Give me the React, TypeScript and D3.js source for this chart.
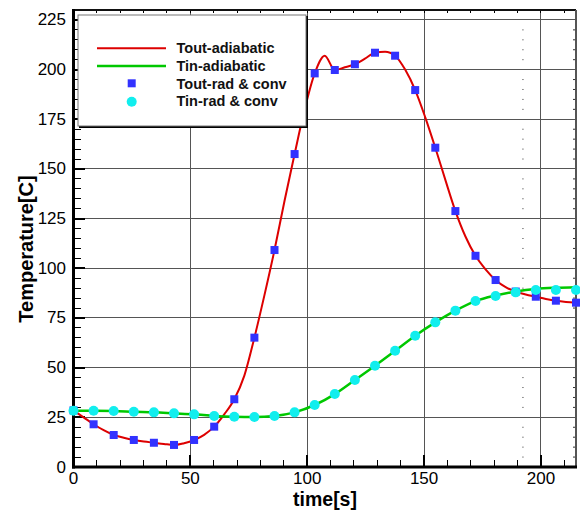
import React from "react";
import * as d3 from "d3";

// time grid for markers (s)
const markerTimes: number[] = [0, 8.6, 17.2, 25.8, 34.4, 43, 51.6, 60.2, 68.8, 77.4, 86, 94.6, 103.2, 111.8, 120.4, 129, 137.6, 146.2, 154.8, 163.4, 172, 180.6, 189.2, 197.8, 206.4, 215];
// Tout-rad & conv (squares)
const toutRad: number[] = [28.5, 21.5, 16.1, 13.6, 12.2, 11.1, 13.6, 20.3, 34.1, 65.1, 109.2, 157.5, 198.1, 199.8, 202.7, 208.5, 207, 189.7, 160.7, 128.8, 106.3, 94.1, 88.3, 85.7, 83.7, 82.7];
// Tin-rad & conv (circles)
const tinRad: number[] = [28.3, 28.3, 28.2, 27.8, 27.5, 27, 26.5, 25.7, 25.3, 25.2, 25.7, 27.5, 31.2, 36.7, 43.8, 51, 58.5, 66.1, 72.8, 78.7, 83.5, 86.1, 87.9, 89.1, 89.1, 89.1];

// line series time grid (s)
const lineTimes: number[] = [0, 4.3, 8.6, 12.9, 17.2, 21.5, 25.8, 30.1, 34.4, 38.7, 43, 47.3, 51.6, 55.9, 60.2, 64.5, 68.8, 73.1, 77.4, 81.7, 86, 90.3, 94.6, 98.9, 103.2, 107.5, 111.8, 116.1, 120.4, 124.7, 129, 133.3, 137.6, 141.9, 146.2, 150.5, 154.8, 159.1, 163.4, 167.7, 172, 176.3, 180.6, 184.9, 189.2, 193.5, 197.8, 202.1, 206.4, 210.7, 215];
// Tout-adiabatic (red line)
const toutAdiabatic: number[] = [28.5, 25, 21.5, 18.5, 16.1, 14.7, 13.6, 12.8, 12.2, 11.6, 11.1, 12, 13.6, 16.2, 20.3, 26.5, 34.1, 46, 65.1, 86.5, 109.2, 134, 157.5, 180, 198.1, 207, 199.8, 201.2, 202.7, 205.5, 208.5, 209, 207, 200, 189.7, 176, 160.7, 144.5, 128.8, 116, 106.3, 99.5, 94.1, 90.5, 88.3, 86.8, 85.7, 84.6, 83.7, 83.1, 82.7];
// Tin-adiabatic (green line), on marker grid
const tinAdiabatic: number[] = [28.3, 28.3, 28.2, 27.8, 27.5, 27, 26.5, 25.7, 25.3, 25.2, 25.7, 27.5, 31.2, 36.7, 43.8, 51, 58.5, 66.1, 72.8, 78.7, 83.5, 86.3, 88.3, 89.6, 90.2, 90.5];

const yTicks: number[] = [0, 25, 50, 75, 100, 125, 150, 175, 200, 225];
const xTicks: number[] = [0, 50, 100, 150, 200];
const legendLabels: string[] = ["Tout-adiabatic", "Tin-adiabatic", "Tout-rad & conv", "Tin-rad & conv"];

const W = 580, H = 513;
const L = 73.5, R = 576, T = 10, B = 467;

export default function App() {
  const x = d3.scaleLinear().domain([0, 215]).range([L, R]);
  const y = d3.scaleLinear().domain([0, 230]).range([B, T]);

  const redLine = d3.line<number>().x((_, i) => x(lineTimes[i])).y((d) => y(d)).curve(d3.curveMonotoneX)(toutAdiabatic) || "";
  const greenLine = d3.line<number>().x((_, i) => x(markerTimes[i])).y((d) => y(d)).curve(d3.curveMonotoneX)(tinAdiabatic) || "";

  const minorX = d3.range(0, 216, 10);
  const minorY = d3.range(0, 231, 5);
  const dotsY = minorY.filter((v) => v % 25 !== 0);
  const font = "'Liberation Sans', Arial, sans-serif";

  return (
    <svg width={W} height={H} style={{ position: "absolute", left: 0, top: 0, background: "#fff" }} fontFamily={font}>
      <rect x={0} y={0} width={W} height={H} fill="#fff" />
      {/* grid */}
      <g stroke="#555" strokeWidth={1} shapeRendering="crispEdges">
        {yTicks.filter((v) => v > 0).map((v) => (
          <line key={"gy" + v} x1={L} x2={R} y1={y(v)} y2={y(v)} />
        ))}
        {xTicks.filter((v) => v > 0).map((v) => (
          <line key={"gx" + v} x1={x(v)} x2={x(v)} y1={T} y2={B} />
        ))}
      </g>
      {/* dotted vertical marks */}
      <g fill="#333">
        {dotsY.map((v) => (
          <rect key={"d1" + v} x={x(192.3) - 0.5} y={y(v) - 0.5} width={1} height={1} />
        ))}
        {dotsY.map((v) => (
          <rect key={"d2" + v} x={R - 3} y={y(v) - 0.5} width={2} height={1} />
        ))}
      </g>
      {/* ticks */}
      <g stroke="#000" shapeRendering="crispEdges">
        {minorX.map((v) => (
          <line key={"tx" + v} x1={x(v)} x2={x(v)} y1={B} y2={B - (v % 50 === 0 ? 12 : 7)} strokeWidth={v % 50 === 0 ? 2 : 1} />
        ))}
        {minorX.map((v) => (
          <line key={"ttx" + v} x1={x(v)} x2={x(v)} y1={T} y2={T + 3} strokeWidth={1} />
        ))}
        {minorY.map((v) => (
          <line key={"ty" + v} x1={L} x2={L + (v % 25 === 0 ? 11 : 7)} y1={y(v)} y2={y(v)} strokeWidth={v % 25 === 0 ? 2 : 1} />
        ))}
      </g>
      {/* frame */}
      <line x1={L} x2={R} y1={T} y2={T} stroke="#111" strokeWidth={2} />
      <line x1={R} x2={R} y1={T} y2={B} stroke="#555" strokeWidth={2} />
      <line x1={L} x2={L} y1={T - 1} y2={B + 1.5} stroke="#000" strokeWidth={3} />
      <line x1={L - 1.5} x2={R + 1} y1={B} y2={B} stroke="#000" strokeWidth={3} />

      {/* series */}
      <path d={redLine} fill="none" stroke="#dd0000" strokeWidth={2} />
      <path d={greenLine} fill="none" stroke="#00c800" strokeWidth={2.5} />
      {toutRad.map((v, i) => (
        <rect key={"s" + i} x={x(markerTimes[i]) - 4} y={y(v) - 4} width={8} height={8} fill="#3232ff" />
      ))}
      {tinRad.map((v, i) => (
        <circle key={"c" + i} cx={x(markerTimes[i])} cy={y(v)} r={5} fill="#11eeee" />
      ))}

      {/* tick labels */}
      <g fontSize={17} fill="#000">
        {yTicks.map((v) => (
          <text key={"ly" + v} x={66} y={y(v)} textAnchor="end" dominantBaseline="central">{v}</text>
        ))}
        {xTicks.map((v) => (
          <text key={"lx" + v} x={x(v)} y={484} textAnchor="middle">{v}</text>
        ))}
      </g>
      <text x={325} y={506} textAnchor="middle" fontSize={19.5} fontWeight="bold">time[s]</text>
      <text transform={`translate(33,249) rotate(-90)`} textAnchor="middle" fontSize={20} fontWeight="bold">Temperature[C]</text>

      {/* legend */}
      <rect x={79} y={16} width={229} height={112} fill="#000" />
      <rect x={78} y={15} width={228} height={111} fill="#fff" stroke="#777" strokeWidth={1} />
      <line x1={97} x2={166} y1={48.3} y2={48.3} stroke="#dd0000" strokeWidth={2} />
      <line x1={97} x2={166} y1={66} y2={66} stroke="#00c800" strokeWidth={2.5} />
      <rect x={131.7 - 4} y={83.3 - 4} width={8} height={8} fill="#3232ff" />
      <circle cx={131.7} cy={101.7} r={5} fill="#11eeee" />
      <g fontSize={14.5} fontWeight="bold" fill="#111">
        {legendLabels.map((s, i) => (
          <text key={s} x={176.5} y={[53.3, 71, 88.5, 106.3][i]}>{s}</text>
        ))}
      </g>
    </svg>
  );
}
